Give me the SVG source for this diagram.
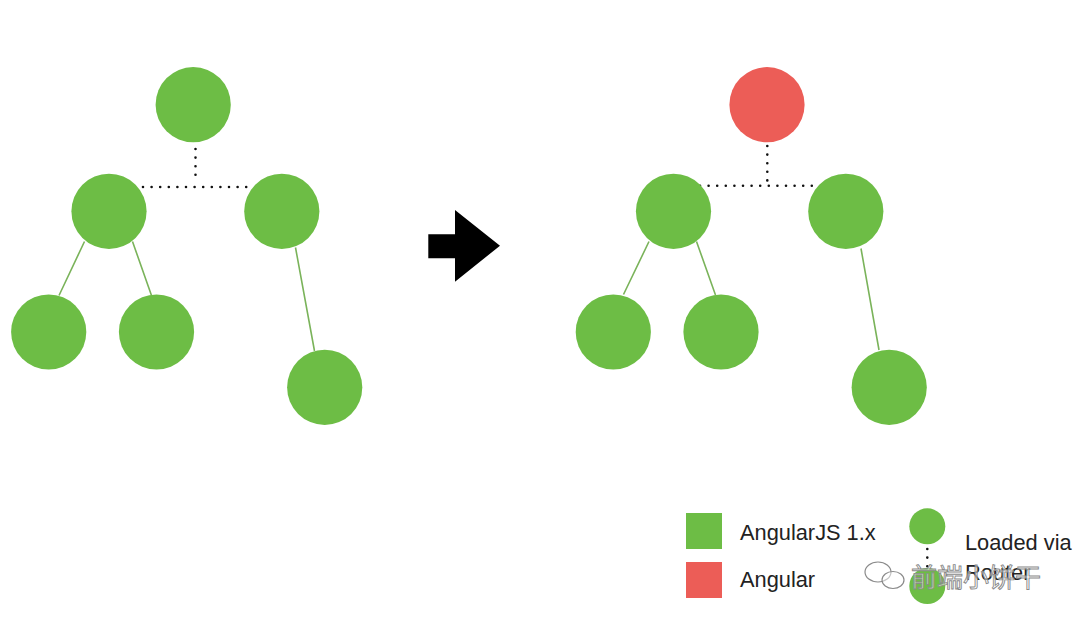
<svg xmlns="http://www.w3.org/2000/svg" width="1080" height="624" viewBox="0 0 1080 624">
<style>
.g{fill:#6dbd45}
.r{fill:#ec5d57}
.solid{stroke:#7ab35a;stroke-width:1.6;fill:none}
.dot{stroke:#111;stroke-width:2.6;stroke-linecap:round;stroke-dasharray:0 8.6;fill:none}
.lbl{font-family:"Liberation Sans",Arial,sans-serif;font-size:21.8px;fill:#222}
.wm{font-family:"Noto Sans CJK SC",sans-serif;font-size:26px;fill:#fff;fill-opacity:0.55;stroke:#8a8a8a;stroke-width:0.9}
</style>
<rect width="1080" height="624" fill="#fff"/>
<g id="connectors">
  <path class="dot" d="M195.5,149 V178 M143,187 H251"/>
  <path class="solid" d="M84.5,241.5 L59,295.5 M132.5,241.5 L151.5,295.5 M295.5,247.5 L314.5,351"/>
  <path class="dot" d="M767.3,146 V182 M700,185.7 H816"/>
  <path class="solid" d="M649,241.5 L623.5,294.5 M696.5,241.5 L715.5,295 M861,248.5 L879,350"/>
  <path class="dot" d="M927.3,549 V576"/>
</g>
<g id="left-root"><circle class="g" cx="193.2" cy="104.7" r="37.6"/></g>
<g id="left-a"><circle class="g" cx="109" cy="211.3" r="37.6"/></g>
<g id="left-b"><circle class="g" cx="281.8" cy="211.3" r="37.6"/></g>
<g id="left-a1"><circle class="g" cx="48.7" cy="332" r="37.6"/></g>
<g id="left-a2"><circle class="g" cx="156.5" cy="332" r="37.6"/></g>
<g id="left-b1"><circle class="g" cx="324.7" cy="387.3" r="37.6"/></g>
<g id="arrow"><polygon fill="#000" points="428.3,234.3 455,234.3 455,210 500,245.7 455,281.7 455,258.3 428.3,258.3"/></g>
<g id="right-root"><circle class="r" cx="767" cy="104.7" r="37.6"/></g>
<g id="right-a"><circle class="g" cx="673.5" cy="211.3" r="37.6"/></g>
<g id="right-b"><circle class="g" cx="845.8" cy="211.3" r="37.6"/></g>
<g id="right-a1"><circle class="g" cx="613.3" cy="332" r="37.6"/></g>
<g id="right-a2"><circle class="g" cx="721" cy="332" r="37.6"/></g>
<g id="right-b1"><circle class="g" cx="889.2" cy="387.3" r="37.6"/></g>
<g id="legend">
  <rect class="g" x="686" y="513" width="36" height="36"/>
  <text class="lbl" x="740" y="540">AngularJS 1.x</text>
  <rect class="r" x="686" y="562" width="36" height="36"/>
  <text class="lbl" x="740" y="587">Angular</text>
  <circle class="g" cx="927.3" cy="526.3" r="18"/>
  <circle class="g" cx="927.3" cy="586" r="18"/>
  <text class="lbl" x="965" y="550">Loaded via</text>
  <text class="lbl" x="965" y="580">Router</text>
</g>
<g id="watermark">
  <ellipse cx="878" cy="572" rx="13" ry="10" fill="#fff" fill-opacity="0.5" stroke="#8a8a8a" stroke-width="1.2"/>
  <ellipse cx="893" cy="580" rx="11" ry="8.5" fill="#fff" fill-opacity="0.5" stroke="#8a8a8a" stroke-width="1.2"/>
  <text class="wm" x="911" y="587">前端小饼干</text>
</g>
</svg>
